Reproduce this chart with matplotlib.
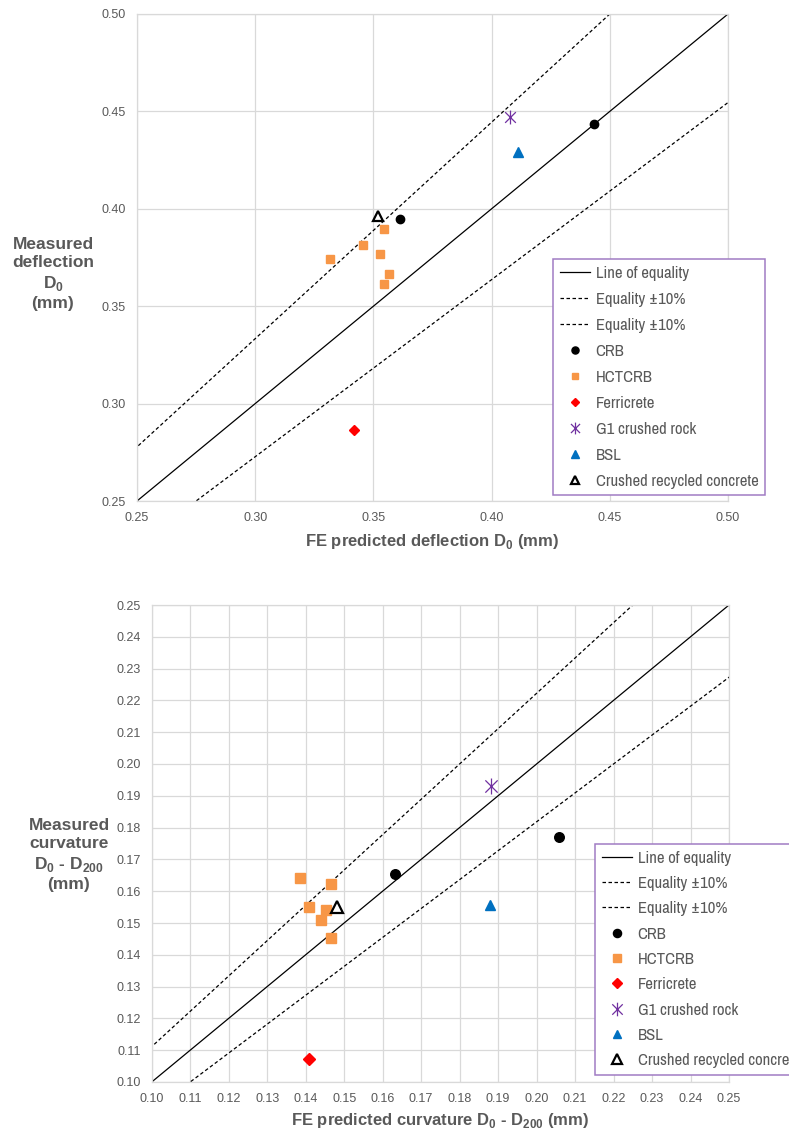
import matplotlib
matplotlib.use('Agg')
import matplotlib.pyplot as plt
from matplotlib import font_manager
from matplotlib.path import Path
import numpy as np

# ---- data: top chart (deflection D0, mm) ----
crb_d0_fe = [0.4435, 0.3613]
crb_d0_meas = [0.4436, 0.3949]
hct_d0_fe = [0.3545, 0.3454, 0.3317, 0.3528, 0.3568, 0.3545]
hct_d0_meas = [0.3898, 0.3812, 0.3740, 0.3766, 0.3664, 0.3613]
fer_d0_fe = [0.3418]
fer_d0_meas = [0.2863]
g1_d0_fe = [0.4076]
g1_d0_meas = [0.4470]
bsl_d0_fe = [0.4111]
bsl_d0_meas = [0.4290]
crc_d0_fe = [0.3520]
crc_d0_meas = [0.3965]

# ---- data: bottom chart (curvature D0 - D200, mm) ----
crb_c_fe = [0.2059, 0.1633]
crb_c_meas = [0.1771, 0.1653]
hct_c_fe = [0.1385, 0.1465, 0.1409, 0.1454, 0.1440, 0.1465]
hct_c_meas = [0.1641, 0.1622, 0.1551, 0.1541, 0.1509, 0.1452]
fer_c_fe = [0.1408]
fer_c_meas = [0.1071]
g1_c_fe = [0.1881]
g1_c_meas = [0.1932]
bsl_c_fe = [0.1880]
bsl_c_meas = [0.1557]
crc_c_fe = [0.1481]
crc_c_meas = [0.1550]

top_ticks = [0.25, 0.30, 0.35, 0.40, 0.45, 0.50]
bot_ticks = [0.10, 0.11, 0.12, 0.13, 0.14, 0.15, 0.16, 0.17, 0.18, 0.19,
             0.20, 0.21, 0.22, 0.23, 0.24, 0.25]

GRAY = '#595959'
GRID = '#D9D9D9'

# look for a narrow / condensed family, otherwise shrink the regular one
narrow = None
for f in font_manager.fontManager.ttflist:
    if ('Narrow' in f.name or 'Condensed' in f.name) and f.style == 'normal':
        narrow = f.name
        break
if narrow:
    LEG_FONT = [narrow, 'DejaVu Sans']
    LEG_SIZE, LEG_SPACE = 12, 0.66
else:
    LEG_FONT = ['Liberation Sans', 'DejaVu Sans']
    LEG_SIZE, LEG_SPACE = 10, 0.95

plt.rcParams['font.family'] = ['Liberation Sans', 'DejaVu Sans']
plt.rcParams['mathtext.fontset'] = 'custom'
plt.rcParams['mathtext.rm'] = 'Liberation Sans'
plt.rcParams['mathtext.bf'] = 'Liberation Sans:bold'

# asterisk-like marker (x with a vertical bar)
star = Path([(-1, -1), (1, 1), (-1, 1), (1, -1), (0, -1.3), (0, 1.3)],
            [Path.MOVETO, Path.LINETO, Path.MOVETO, Path.LINETO,
             Path.MOVETO, Path.LINETO])

fig = plt.figure(figsize=(7.89, 11.31), dpi=100)
ax1 = fig.add_axes([137 / 789, 1 - 501 / 1131, 591 / 789, 487 / 1131])
ax2 = fig.add_axes([151.7 / 789, 1 - 1082 / 1131, 577.3 / 789, 477 / 1131])


def draw(ax, lim, ticks, s, series, leg_anchor, spacing):
    lo, hi = lim
    xs = np.array([lo * 0.8, hi * 1.2])
    ax.plot(xs, xs, color='black', lw=0.9, label='Line of equality', zorder=2)
    ax.plot(xs, xs / 0.9, color='black', lw=0.9, dashes=(2.8, 2.0),
            label='Equality \u00b110%', zorder=2)
    ax.plot(xs, xs / 1.1, color='black', lw=0.9, dashes=(2.8, 2.0),
            label='Equality \u00b110%', zorder=2)

    crb, hct, fer, g1, bsl, crc = series
    ax.plot(*crb, 'o', color='black', ms=6 * s, ls='none', label='CRB', zorder=3)
    ax.plot(*hct, 's', color='#F79646', ms=5.8 * s, ls='none', label='HCTCRB', zorder=3)
    ax.plot(*fer, 'D', color='#FF0000', ms=5 * s, ls='none', label='Ferricrete', zorder=3)
    ax.plot(*g1, marker=star, color='#7030A0', mfc='none', mew=0.9, ms=10 * s,
            ls='none', label='G1 crushed rock', zorder=3)
    ax.plot(*bsl, '^', color='#0070C0', ms=6.5 * s, ls='none', label='BSL', zorder=3)
    ax.plot(*crc, '^', mfc='white', mec='black', mew=1.6, ms=7 * s, ls='none',
            label='Crushed recycled concrete', zorder=4)

    ax.set_xlim(lo, hi)
    ax.set_ylim(lo, hi)
    ax.set_xticks(ticks)
    ax.set_yticks(ticks)
    ax.set_xticklabels(['%.2f' % t for t in ticks])
    ax.set_yticklabels(['%.2f' % t for t in ticks])
    ax.grid(True, color=GRID, lw=0.9, zorder=0)
    ax.set_axisbelow(True)
    for sp in ax.spines.values():
        sp.set_color(GRID)
        sp.set_linewidth(0.9)
    ax.tick_params(length=0, colors=GRAY, labelsize=9, pad=8)

    leg = ax.legend(loc='upper left', bbox_to_anchor=leg_anchor, borderaxespad=0,
                    fancybox=False, framealpha=1, edgecolor='#A07CC4',
                    prop={'family': LEG_FONT, 'size': LEG_SIZE}, labelcolor=GRAY,
                    handlelength=1.8, handletextpad=0.35, labelspacing=spacing,
                    borderpad=0.4, markerscale=0.85)
    leg.get_frame().set_linewidth(1.1)
    leg.set_zorder(5)


draw(ax1, (0.25, 0.50), top_ticks, 1.0,
     [(crb_d0_fe, crb_d0_meas), (hct_d0_fe, hct_d0_meas), (fer_d0_fe, fer_d0_meas),
      (g1_d0_fe, g1_d0_meas), (bsl_d0_fe, bsl_d0_meas), (crc_d0_fe, crc_d0_meas)],
     (0.704, 0.497), LEG_SPACE)
draw(ax2, (0.10, 0.25), bot_ticks, 1.15,
     [(crb_c_fe, crb_c_meas), (hct_c_fe, hct_c_meas), (fer_c_fe, fer_c_meas),
      (g1_c_fe, g1_c_meas), (bsl_c_fe, bsl_c_meas), (crc_c_fe, crc_c_meas)],
     (0.768, 0.499), LEG_SPACE - 0.04)

ax1.set_xlabel('FE predicted deflection D$_\\mathbf{0}$ (mm)', fontsize=12,
               fontweight='bold', color=GRAY, labelpad=6)
ax2.set_xlabel('FE predicted curvature D$_\\mathbf{0}$ - D$_\\mathbf{200}$ (mm)',
               fontsize=12, fontweight='bold', color=GRAY, labelpad=4.5)

fig.text(53 / 789, 1 - 274 / 1131, 'Measured\ndeflection\nD$_\\mathbf{0}$\n(mm)',
         ha='center', va='center', fontsize=12.5, fontweight='bold', color=GRAY,
         linespacing=1.25)
fig.text(69 / 789, 1 - 855 / 1131,
         'Measured\ncurvature\nD$_\\mathbf{0}$ - D$_\\mathbf{200}$\n(mm)',
         ha='center', va='center', fontsize=12.5, fontweight='bold', color=GRAY,
         linespacing=1.25)

fig.savefig('out.png', dpi=100)
